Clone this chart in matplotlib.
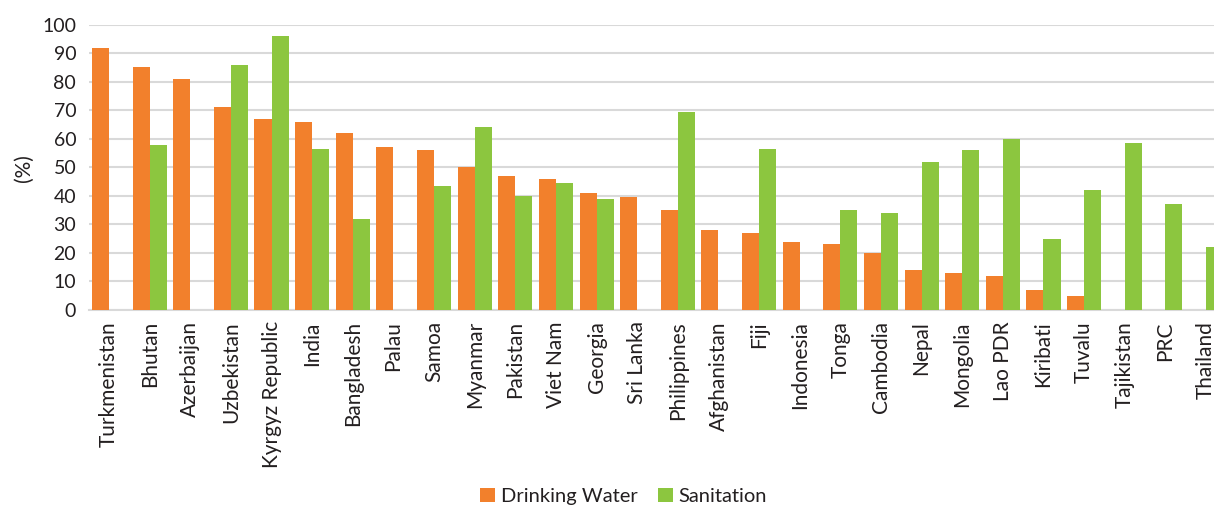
import matplotlib
matplotlib.use("Agg")
import matplotlib.pyplot as plt
import numpy as np

countries = ["Turkmenistan", "Bhutan", "Azerbaijan", "Uzbekistan", "Kyrgyz Republic",
             "India", "Bangladesh", "Palau", "Samoa", "Myanmar", "Pakistan", "Viet Nam",
             "Georgia", "Sri Lanka", "Philippines", "Afghanistan", "Fiji", "Indonesia",
             "Tonga", "Cambodia", "Nepal", "Mongolia", "Lao PDR", "Kiribati", "Tuvalu",
             "Tajikistan", "PRC", "Thailand"]
drinking_water = [92, 85, 81, 71, 67, 66, 62, 57, 56, 50, 47, 46, 41, 39.5, 35, 28,
                  27, 24, 23, 20, 14, 13, 12, 7, 5, 0, 0, 0]
sanitation = [0, 58, 0, 86, 96, 56.5, 32, 0, 43.5, 64, 40, 44.5, 39, 0, 69.5, 0,
              56.5, 0, 35, 34, 52, 56, 60, 25, 42, 58.5, 37, 22]
yticks = list(range(0, 101, 10))

ORANGE = "#F2802C"
GREEN = "#8CC63F"
TEXT = "#231F20"
GRID = "#D9D9D9"

plt.rcParams["font.family"] = ["Lato", "DejaVu Sans"]

fig = plt.figure(figsize=(12.14, 5.12), dpi=100)
ax = fig.add_axes([0.0731, 0.3945, 0.937, 0.5573])

x = np.arange(len(countries))
w = 0.42
ax.bar(x - w / 2, drinking_water, width=w, color=ORANGE, label="Drinking Water", zorder=3)
ax.bar(x + w / 2, sanitation, width=w, color=GREEN, label="Sanitation", zorder=3)

ax.set_xlim(-0.5, len(countries) - 0.5)
ax.set_ylim(0, 100)
ax.set_yticks(yticks)
ax.set_yticklabels([str(t) for t in yticks], fontsize=14, color=TEXT)
ax.set_xticks(x)
ax.set_xticklabels(countries, rotation=90, fontsize=15, color=TEXT)
ax.tick_params(axis="both", length=0)
ax.tick_params(axis="x", pad=8)
ax.tick_params(axis="y", pad=9)

ax.grid(axis="y", color=GRID, linewidth=1.5, zorder=0)
for side in ["top", "right", "left"]:
    ax.spines[side].set_visible(False)
ax.spines["bottom"].set_color(GRID)
ax.spines["bottom"].set_linewidth(1.5)

fig.text(23.5 / 1214, 1 - 168 / 512, "(%)", rotation=90, fontsize=15, color=TEXT,
         ha="center", va="center")

fig.legend(loc="lower center", bbox_to_anchor=(0.5136, -0.022), ncol=2, frameon=False,
           fontsize=14.5, handlelength=0.75, handleheight=0.75, handletextpad=0.3,
           columnspacing=1.0, labelcolor=TEXT)

fig.savefig("out.png", dpi=100)
